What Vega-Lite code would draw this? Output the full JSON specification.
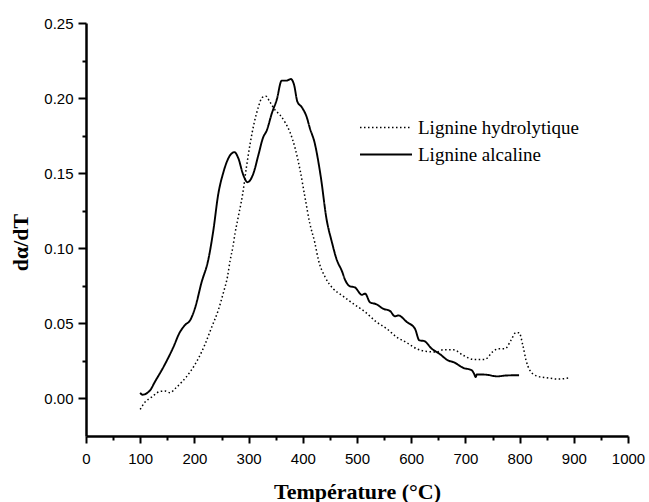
{
  "$schema": "https://vega.github.io/schema/vega-lite/v6.json",
  "width": 542,
  "height": 413,
  "autosize": {"type": "none"},
  "padding": {"left": 86, "top": 23, "right": 21, "bottom": 66},
  "background": "white",
  "config": {"view": {"stroke": null}},
  "data": {"values": [
    {"T":100,"v":0.0038,"s":"Lignine alcaline"},
    {"T":104,"v":0.0025,"s":"Lignine alcaline"},
    {"T":118,"v":0.0053,"s":"Lignine alcaline"},
    {"T":127,"v":0.011,"s":"Lignine alcaline"},
    {"T":143,"v":0.021,"s":"Lignine alcaline"},
    {"T":161,"v":0.034,"s":"Lignine alcaline"},
    {"T":173,"v":0.044,"s":"Lignine alcaline"},
    {"T":183,"v":0.049,"s":"Lignine alcaline"},
    {"T":192,"v":0.052,"s":"Lignine alcaline"},
    {"T":201,"v":0.060,"s":"Lignine alcaline"},
    {"T":213,"v":0.077,"s":"Lignine alcaline"},
    {"T":226,"v":0.093,"s":"Lignine alcaline"},
    {"T":235,"v":0.112,"s":"Lignine alcaline"},
    {"T":244,"v":0.136,"s":"Lignine alcaline"},
    {"T":253,"v":0.150,"s":"Lignine alcaline"},
    {"T":266,"v":0.162,"s":"Lignine alcaline"},
    {"T":274,"v":0.164,"s":"Lignine alcaline"},
    {"T":281,"v":0.160,"s":"Lignine alcaline"},
    {"T":290,"v":0.149,"s":"Lignine alcaline"},
    {"T":298,"v":0.144,"s":"Lignine alcaline"},
    {"T":309,"v":0.150,"s":"Lignine alcaline"},
    {"T":318,"v":0.162,"s":"Lignine alcaline"},
    {"T":327,"v":0.174,"s":"Lignine alcaline"},
    {"T":333,"v":0.178,"s":"Lignine alcaline"},
    {"T":343,"v":0.190,"s":"Lignine alcaline"},
    {"T":352,"v":0.199,"s":"Lignine alcaline"},
    {"T":361,"v":0.2116,"s":"Lignine alcaline"},
    {"T":370,"v":0.2116,"s":"Lignine alcaline"},
    {"T":378,"v":0.2127,"s":"Lignine alcaline"},
    {"T":384,"v":0.2087,"s":"Lignine alcaline"},
    {"T":390,"v":0.1976,"s":"Lignine alcaline"},
    {"T":398,"v":0.194,"s":"Lignine alcaline"},
    {"T":407,"v":0.1876,"s":"Lignine alcaline"},
    {"T":413,"v":0.180,"s":"Lignine alcaline"},
    {"T":422,"v":0.170,"s":"Lignine alcaline"},
    {"T":433,"v":0.148,"s":"Lignine alcaline"},
    {"T":444,"v":0.119,"s":"Lignine alcaline"},
    {"T":453,"v":0.105,"s":"Lignine alcaline"},
    {"T":463,"v":0.092,"s":"Lignine alcaline"},
    {"T":472,"v":0.085,"s":"Lignine alcaline"},
    {"T":478,"v":0.079,"s":"Lignine alcaline"},
    {"T":487,"v":0.0747,"s":"Lignine alcaline"},
    {"T":496,"v":0.074,"s":"Lignine alcaline"},
    {"T":509,"v":0.069,"s":"Lignine alcaline"},
    {"T":515,"v":0.0698,"s":"Lignine alcaline"},
    {"T":524,"v":0.064,"s":"Lignine alcaline"},
    {"T":536,"v":0.0627,"s":"Lignine alcaline"},
    {"T":548,"v":0.0598,"s":"Lignine alcaline"},
    {"T":561,"v":0.0582,"s":"Lignine alcaline"},
    {"T":570,"v":0.0547,"s":"Lignine alcaline"},
    {"T":576,"v":0.0553,"s":"Lignine alcaline"},
    {"T":592,"v":0.0509,"s":"Lignine alcaline"},
    {"T":607,"v":0.0464,"s":"Lignine alcaline"},
    {"T":615,"v":0.0387,"s":"Lignine alcaline"},
    {"T":624,"v":0.0382,"s":"Lignine alcaline"},
    {"T":638,"v":0.0331,"s":"Lignine alcaline"},
    {"T":653,"v":0.0295,"s":"Lignine alcaline"},
    {"T":668,"v":0.0253,"s":"Lignine alcaline"},
    {"T":678,"v":0.0242,"s":"Lignine alcaline"},
    {"T":696,"v":0.0204,"s":"Lignine alcaline"},
    {"T":712,"v":0.0187,"s":"Lignine alcaline"},
    {"T":716,"v":0.0164,"s":"Lignine alcaline"},
    {"T":719,"v":0.0142,"s":"Lignine alcaline"},
    {"T":721,"v":0.016,"s":"Lignine alcaline"},
    {"T":739,"v":0.0158,"s":"Lignine alcaline"},
    {"T":758,"v":0.0147,"s":"Lignine alcaline"},
    {"T":776,"v":0.0153,"s":"Lignine alcaline"},
    {"T":799,"v":0.0155,"s":"Lignine alcaline"},
    {"T":100,"v":-0.0073,"s":"Lignine hydrolytique"},
    {"T":109,"v":-0.0024,"s":"Lignine hydrolytique"},
    {"T":121,"v":0.0009,"s":"Lignine hydrolytique"},
    {"T":137,"v":0.0047,"s":"Lignine hydrolytique"},
    {"T":146,"v":0.0049,"s":"Lignine hydrolytique"},
    {"T":155,"v":0.0038,"s":"Lignine hydrolytique"},
    {"T":164,"v":0.0064,"s":"Lignine hydrolytique"},
    {"T":177,"v":0.011,"s":"Lignine hydrolytique"},
    {"T":192,"v":0.0176,"s":"Lignine hydrolytique"},
    {"T":207,"v":0.0264,"s":"Lignine hydrolytique"},
    {"T":220,"v":0.0364,"s":"Lignine hydrolytique"},
    {"T":232,"v":0.0476,"s":"Lignine hydrolytique"},
    {"T":244,"v":0.0587,"s":"Lignine hydrolytique"},
    {"T":253,"v":0.0698,"s":"Lignine hydrolytique"},
    {"T":261,"v":0.081,"s":"Lignine hydrolytique"},
    {"T":266,"v":0.092,"s":"Lignine hydrolytique"},
    {"T":271,"v":0.1009,"s":"Lignine hydrolytique"},
    {"T":275,"v":0.110,"s":"Lignine hydrolytique"},
    {"T":281,"v":0.121,"s":"Lignine hydrolytique"},
    {"T":289,"v":0.136,"s":"Lignine hydrolytique"},
    {"T":296,"v":0.154,"s":"Lignine hydrolytique"},
    {"T":303,"v":0.170,"s":"Lignine hydrolytique"},
    {"T":310,"v":0.183,"s":"Lignine hydrolytique"},
    {"T":318,"v":0.194,"s":"Lignine hydrolytique"},
    {"T":325,"v":0.2004,"s":"Lignine hydrolytique"},
    {"T":332,"v":0.2013,"s":"Lignine hydrolytique"},
    {"T":339,"v":0.1976,"s":"Lignine hydrolytique"},
    {"T":349,"v":0.192,"s":"Lignine hydrolytique"},
    {"T":358,"v":0.1887,"s":"Lignine hydrolytique"},
    {"T":367,"v":0.184,"s":"Lignine hydrolytique"},
    {"T":376,"v":0.1776,"s":"Lignine hydrolytique"},
    {"T":386,"v":0.1664,"s":"Lignine hydrolytique"},
    {"T":395,"v":0.152,"s":"Lignine hydrolytique"},
    {"T":404,"v":0.134,"s":"Lignine hydrolytique"},
    {"T":413,"v":0.1164,"s":"Lignine hydrolytique"},
    {"T":422,"v":0.104,"s":"Lignine hydrolytique"},
    {"T":429,"v":0.092,"s":"Lignine hydrolytique"},
    {"T":441,"v":0.081,"s":"Lignine hydrolytique"},
    {"T":456,"v":0.0731,"s":"Lignine hydrolytique"},
    {"T":472,"v":0.0687,"s":"Lignine hydrolytique"},
    {"T":493,"v":0.0631,"s":"Lignine hydrolytique"},
    {"T":515,"v":0.0576,"s":"Lignine hydrolytique"},
    {"T":536,"v":0.0509,"s":"Lignine hydrolytique"},
    {"T":555,"v":0.0464,"s":"Lignine hydrolytique"},
    {"T":573,"v":0.0409,"s":"Lignine hydrolytique"},
    {"T":592,"v":0.0371,"s":"Lignine hydrolytique"},
    {"T":610,"v":0.0331,"s":"Lignine hydrolytique"},
    {"T":629,"v":0.0313,"s":"Lignine hydrolytique"},
    {"T":647,"v":0.0309,"s":"Lignine hydrolytique"},
    {"T":659,"v":0.0324,"s":"Lignine hydrolytique"},
    {"T":678,"v":0.0324,"s":"Lignine hydrolytique"},
    {"T":696,"v":0.0287,"s":"Lignine hydrolytique"},
    {"T":715,"v":0.026,"s":"Lignine hydrolytique"},
    {"T":736,"v":0.026,"s":"Lignine hydrolytique"},
    {"T":751,"v":0.0313,"s":"Lignine hydrolytique"},
    {"T":761,"v":0.0331,"s":"Lignine hydrolytique"},
    {"T":773,"v":0.0331,"s":"Lignine hydrolytique"},
    {"T":784,"v":0.0387,"s":"Lignine hydrolytique"},
    {"T":793,"v":0.0438,"s":"Lignine hydrolytique"},
    {"T":799,"v":0.0438,"s":"Lignine hydrolytique"},
    {"T":806,"v":0.0353,"s":"Lignine hydrolytique"},
    {"T":812,"v":0.0253,"s":"Lignine hydrolytique"},
    {"T":819,"v":0.0187,"s":"Lignine hydrolytique"},
    {"T":832,"v":0.0149,"s":"Lignine hydrolytique"},
    {"T":850,"v":0.0138,"s":"Lignine hydrolytique"},
    {"T":871,"v":0.0129,"s":"Lignine hydrolytique"},
    {"T":890,"v":0.0136,"s":"Lignine hydrolytique"}
  ]},
  "mark": {"type": "line", "color": "black", "interpolate": "monotone", "clip": true},
  "encoding": {
    "x": {
      "field": "T", "type": "quantitative",
      "scale": {"domain": [0, 1000], "nice": false, "zero": false},
      "axis": {
        "title": "Température (°C)",
        "values": [0,50,100,150,200,250,300,350,400,450,500,550,600,650,700,750,800,850,900,950,1000],
        "format": "d",
        "labelExpr": "datum.value % 100 == 0 ? datum.label : ''",
        "grid": false,
        "domainColor": "black", "domainWidth": 2.5,
        "tickColor": "black", "tickWidth": 2,
        "tickSize": {"condition": {"test": "datum.value % 100 != 0", "value": 4}, "value": 7},
        "labelFont": "Liberation Sans", "labelFontSize": 15, "labelColor": "black",
        "labelPadding": 8, "labelOverlap": false, "labelFlush": false,
        "titleFont": "Liberation Serif", "titleFontSize": 22, "titleFontWeight": "bold", "titleColor": "black",
        "titleBaseline": "alphabetic", "titleY": 62, "titleX": 271
      }
    },
    "y": {
      "field": "v", "type": "quantitative",
      "scale": {"domain": [-0.025, 0.25], "nice": false, "zero": false},
      "axis": {
        "title": "dα/dT",
        "values": [0,0.025,0.05,0.075,0.1,0.125,0.15,0.175,0.2,0.225,0.25],
        "labelExpr": "round(datum.value*1000) % 50 == 0 ? format(datum.value, '.2f') : ''",
        "grid": false,
        "domainColor": "black", "domainWidth": 2.5,
        "tickColor": "black", "tickWidth": 2,
        "tickSize": {"condition": {"test": "round(datum.value*1000) % 50 != 0", "value": 4}, "value": 8},
        "labelFont": "Liberation Sans", "labelFontSize": 15, "labelColor": "black",
        "labelPadding": 5, "labelOverlap": false, "labelFlush": false,
        "titleFont": "Liberation Serif", "titleFontSize": 22, "titleFontWeight": "bold", "titleColor": "black",
        "titleAngle": 270, "titleAlign": "center", "titleBaseline": "middle", "titleX": -66, "titleY": 219
      }
    },
    "strokeDash": {
      "field": "s", "type": "nominal",
      "scale": {"domain": ["Lignine hydrolytique", "Lignine alcaline"], "range": [[1.5, 2.5], [1, 0]]},
      "legend": {
        "title": null, "orient": "none", "legendX": 273, "legendY": 91, "padding": 0,
        "symbolType": "stroke", "symbolSize": 2704, "symbolStrokeColor": "black", "symbolStrokeWidth": 1.6,
        "clipHeight": 27, "rowPadding": 0, "labelOffset": 5,
        "labelFont": "Liberation Serif", "labelFontSize": 19, "labelColor": "black", "labelLimit": 300
      }
    },
    "strokeWidth": {
      "field": "s", "type": "nominal",
      "scale": {"domain": ["Lignine hydrolytique", "Lignine alcaline"], "range": [1.5, 1.9]},
      "legend": null
    }
  }
}
